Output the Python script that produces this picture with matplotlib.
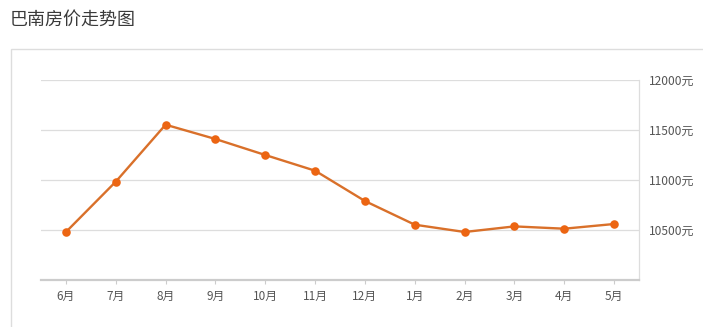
import matplotlib
matplotlib.use("Agg")
import matplotlib.pyplot as plt
from matplotlib.patches import Rectangle

plt.rcParams['font.family'] = ['Noto Sans CJK SC', 'DejaVu Sans']

title = "巴南房价走势图"
months = ["6月", "7月", "8月", "9月", "10月", "11月", "12月", "1月", "2月", "3月", "4月", "5月"]
prices = [10480, 10983, 11553, 11410, 11250, 11093, 10790, 10553, 10480, 10536, 10513, 10560]
y_ticks = [10500, 11000, 11500, 12000]
y_tick_labels = ["10500元", "11000元", "11500元", "12000元"]

W, H = 703, 327
fig = plt.figure(figsize=(W / 100, H / 100), dpi=100)

# outer panel border
fig.add_artist(Rectangle((11 / W, -0.1), 1.0, 1 - 49 / H + 0.1, transform=fig.transFigure,
                         facecolor='white', edgecolor='#dddddd', linewidth=1.0, zorder=0))

fig.text(10 / W, 1 - 20 / H, title, fontsize=13, color='#3a3a3a', va='center', ha='left')

ax = fig.add_axes([41 / W, 1 - 280 / H, (639 - 41) / W, 200 / H])
ax.set_facecolor('none')
x = list(range(len(months)))
ax.plot(x, prices, color='#d9702a', linewidth=1.7, zorder=3)
ax.scatter(x, prices, s=38, color='#ec6512', zorder=4, linewidths=0)

ax.set_xlim(-0.5, len(months) - 0.5)
ax.set_ylim(10000, 12000)

for v in y_ticks:
    ax.axhline(v, color='#dddddd', linewidth=0.9, zorder=1)

ax.yaxis.tick_right()
ax.set_yticks(y_ticks)
ax.set_yticklabels(y_tick_labels)
ax.tick_params(axis='y', length=0, pad=7, labelsize=8.6, labelcolor='#555555')
ax.set_xticks(x)
ax.set_xticklabels(months)
ax.tick_params(axis='x', length=3, color='#cccccc', pad=4, labelsize=8.5, labelcolor='#555555')

for s in ['top', 'left']:
    ax.spines[s].set_visible(False)
ax.spines['right'].set_color('#dddddd')
ax.spines['right'].set_linewidth(0.9)
ax.spines['bottom'].set_color('#cccccc')
ax.spines['bottom'].set_linewidth(1.6)

fig.savefig('out.png', dpi=100)
